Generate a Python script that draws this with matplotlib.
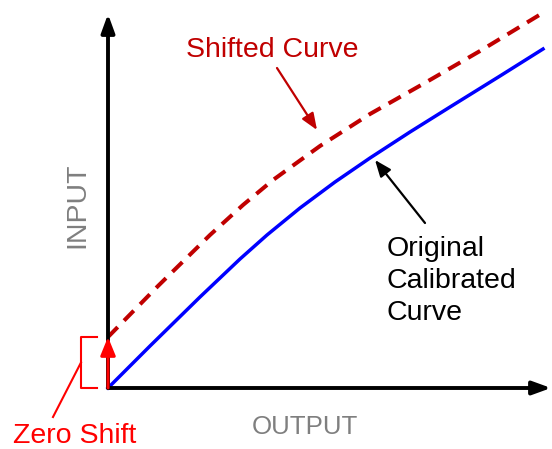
import matplotlib

matplotlib.use("Agg")
import matplotlib.pyplot as plt

plt.rcParams["font.family"] = ["Liberation Sans", "DejaVu Sans"]
plt.rcParams["lines.scale_dashes"] = False

# curve samples (output, input)
orig_output = [0, 42, 92, 132, 159, 192, 227, 262, 302, 342, 392, 435]
orig_input = [0, 42, 91, 129, 153, 180, 206, 230, 256, 281, 312, 339]

shift_output = [0, 50, 102, 135, 165, 212, 262, 315, 372, 433]
shift_input = [51, 102, 153, 183, 208, 242, 274, 304, 337, 374]

zero_shift = shift_input[0]
axis_len_x = 443
axis_len_y = 374

labels = {
    "shifted": "Shifted Curve",
    "original": "Original\nCalibrated\nCurve",
    "zero": "Zero Shift",
    "xlabel": "OUTPUT",
    "ylabel": "INPUT",
}

DARK_RED = "#C00000"
RED = "#FF0000"
BLUE = "#0000FF"
GRAY = "#7F7F7F"


def arrow(ax, start, end, color, lw, head="1.0", width="0.45", scale=10):
    ax.annotate(
        "",
        xy=end,
        xytext=start,
        arrowprops=dict(
            arrowstyle=f"-|>,head_length={head},head_width={width}",
            color=color,
            lw=lw,
            shrinkA=0,
            shrinkB=0,
            mutation_scale=scale,
        ),
    )


def main():
    fig = plt.figure(figsize=(5.52, 4.49), dpi=100)
    ax = fig.add_axes([0, 0, 1, 1])
    ax.set_xlim(-108, 444)
    ax.set_ylim(-61, 388)
    ax.axis("off")

    # axes with arrow heads
    arrow(ax, (0, 0), (0, axis_len_y), "black", 2.8, head="1.1", width="0.4")
    arrow(ax, (0, 0), (axis_len_x, 0), "black", 2.8, head="1.1", width="0.4")

    # curves
    ax.plot(orig_output, orig_input, color=BLUE, lw=2.5,
            solid_joinstyle="round")
    ax.plot(
        shift_output,
        shift_input,
        color=DARK_RED,
        lw=2.9,
        dashes=(10, 6.5),
        dash_capstyle="butt",
    )

    # zero shift arrow and bracket
    arrow(ax, (0, 0), (0, zero_shift), RED, 2.2, head="1.1", width="0.45")
    ax.plot([-11, -27, -27, -11], [zero_shift, zero_shift, 0, 0], color=RED, lw=1.5)
    ax.plot([-27, -55], [zero_shift / 2, -29], color=RED, lw=1.5)
    ax.text(-95, -55, labels["zero"], color=RED, fontsize=20.5, va="baseline")

    # shifted curve annotation
    ax.text(164.5, 331, labels["shifted"], color=DARK_RED, fontsize=20.5,
            ha="center", va="baseline")
    arrow(ax, (169, 320), (209, 258), DARK_RED, 1.6, head="1.0", width="0.4")

    # original curve annotation (baseline of the last line)
    ax.text(279, 68, labels["original"], color="black", fontsize=20.5,
            ha="left", va="baseline", linespacing=1.3)
    arrow(ax, (317, 165), (267, 228), "black", 1.6, head="1.0", width="0.4")

    # axis labels
    ax.text(197, -46, labels["xlabel"], color=GRAY, fontsize=18.6,
            ha="center", va="baseline")
    ax.text(-31, 183, labels["ylabel"], color=GRAY, fontsize=20.5,
            ha="center", va="center", rotation=90)

    fig.savefig("out.png", dpi=100)
    plt.close(fig)


if __name__ == "__main__":
    main()
